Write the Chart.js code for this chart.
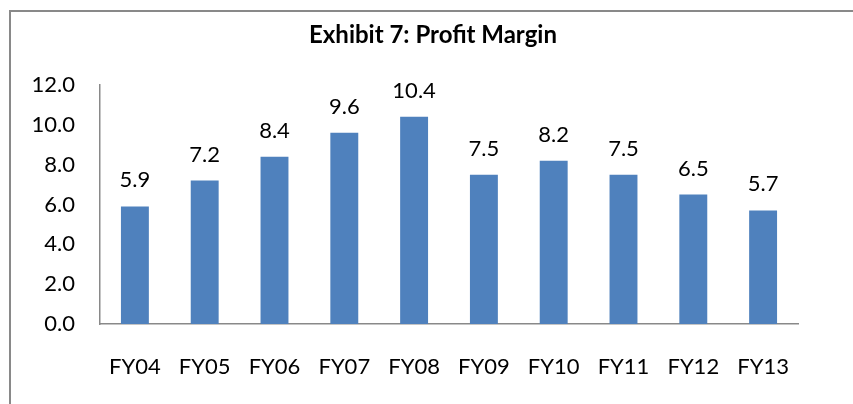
<!DOCTYPE html>
<html>
<head>
<meta charset="utf-8">
<script src="https://cdn.jsdelivr.net/npm/chart.js@4"></script>
<style>
  html, body { margin: 0; padding: 0; background: #fff; }
  #c { display: block; }
</style>
</head>
<body>
<canvas id="c" width="853" height="404"></canvas>
<script>
const title = "Exhibit 7: Profit Margin";
const categories = ["FY04", "FY05", "FY06", "FY07", "FY08", "FY09", "FY10", "FY11", "FY12", "FY13"];
const profitMargin = [5.9, 7.2, 8.4, 9.6, 10.4, 7.5, 8.2, 7.5, 6.5, 5.7];
const yTicks = { min: 0, max: 12, step: 2 };

const FONT = "Lato, 'Open Sans', sans-serif";

const framePlugin = {
  id: 'frame',
  beforeDraw(chart) {
    const ctx = chart.ctx;
    ctx.save();
    ctx.fillStyle = '#fff';
    ctx.fillRect(0, 0, chart.width, chart.height);
    ctx.strokeStyle = '#898989';
    ctx.lineWidth = 2;
    ctx.beginPath();
    ctx.moveTo(10, chart.height + 2);
    ctx.lineTo(10, 11);
    ctx.lineTo(chart.width + 2, 11);
    ctx.stroke();
    ctx.restore();
  },
  afterDraw(chart) {
    const ctx = chart.ctx;
    ctx.save();
    ctx.fillStyle = '#000';
    ctx.font = "bold 24px " + FONT;
    ctx.textAlign = 'center';
    ctx.textBaseline = 'alphabetic';
    ctx.fillText(title, 433, 43);
    ctx.restore();
  }
};

const labelPlugin = {
  id: 'valueLabels',
  afterDatasetsDraw(chart) {
    const ctx = chart.ctx;
    const meta = chart.getDatasetMeta(0);
    ctx.save();
    ctx.fillStyle = '#000';
    ctx.font = "22px " + FONT;
    ctx.textAlign = 'center';
    ctx.textBaseline = 'alphabetic';
    meta.data.forEach((bar, i) => {
      ctx.fillText(chart.data.datasets[0].data[i].toFixed(1), bar.x, bar.y - 19);
    });
    ctx.restore();
  }
};

new Chart(document.getElementById('c'), {
  type: 'bar',
  data: {
    labels: categories,
    datasets: [{
      data: profitMargin,
      backgroundColor: '#4F81BD',
      borderWidth: 0,
      categoryPercentage: 1.0,
      barPercentage: 0.4
    }]
  },
  options: {
    responsive: false,
    animation: false,
    devicePixelRatio: 1,
    layout: { padding: { top: 85, right: 55, left: 0, bottom: 0 } },
    plugins: { legend: { display: false }, title: { display: false }, tooltip: { enabled: false } },
    scales: {
      x: {
        grid: { display: false, drawTicks: false },
        border: { display: true, color: '#898989', width: 1.5 },
        ticks: { color: '#000', font: { family: FONT, size: 22 }, padding: 30, maxRotation: 0 },
        afterFit(scale) { scale.height = 80; }
      },
      y: {
        min: yTicks.min,
        max: yTicks.max,
        grid: { display: false, drawTicks: false },
        border: { display: true, color: '#898989', width: 1.5 },
        ticks: {
          stepSize: yTicks.step,
          color: '#000',
          font: { family: FONT, size: 22 },
          padding: 25,
          callback: v => Number(v).toFixed(1)
        },
        afterFit(scale) { scale.width = 100; }
      }
    }
  },
  plugins: [framePlugin, labelPlugin]
});
</script>
</body>
</html>
